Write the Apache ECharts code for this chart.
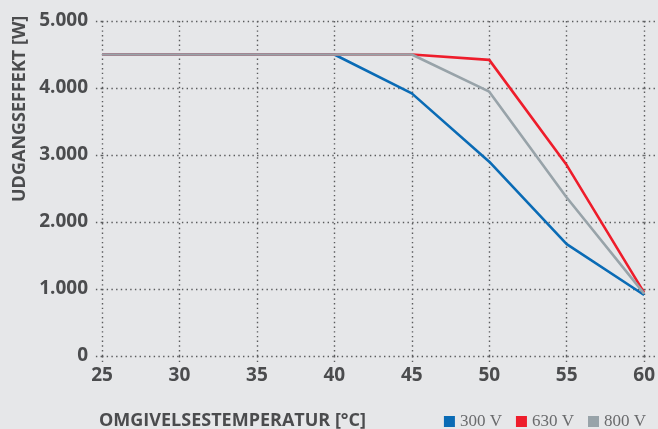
<!DOCTYPE html>
<html>
<head>
<meta charset="utf-8">
<script src="https://cdn.jsdelivr.net/npm/echarts@6/dist/echarts.min.js"></script>
<style>
html,body{margin:0;padding:0;background:#e6e7e9;}
#c{width:658px;height:429px;}
</style>
</head>
<body>
<div id="c"></div>
<script>
const temperatures = [25, 30, 35, 40, 45, 50, 55, 60];
const v300 = [4500, 4500, 4500, 4500, 3920, 2900, 1670, 910];
const v630 = [4500, 4500, 4500, 4500, 4500, 4420, 2850, 945];
const v800 = [4500, 4500, 4500, 4500, 4500, 3945, 2365, 930];
const seriesNames = ['300 V', '630 V', '800 V'];
const seriesColors = ['#0a6bb5', '#ee1d2b', '#98a3a9'];
const yAxisName = 'UDGANGSEFFEKT [W]';
const xAxisName = 'OMGIVELSESTEMPERATUR [°C]';

const FONT = '"Liberation Sans Narrow", "Open Sans", "Liberation Sans", sans-serif';
const TXT = '#4b4c4e';
const dotStyle = { color: '#5a5b5d', width: 1.4, type: [1.4, 3.3] };

const fmtY = v => v === 0 ? '0' : (v / 1000).toFixed(3);

const chart = echarts.init(document.getElementById('c'));
const data = [v300, v630, v800];
chart.setOption({
  backgroundColor: '#e6e7e9',
  animation: false,
  grid: { left: 102, right: 12, top: 21, bottom: 73 },
  legend: {
    right: 7, top: 408,
    icon: 'rect', itemWidth: 11, itemHeight: 11, itemGap: 14,
    textStyle: { fontFamily: '"Liberation Serif", "DejaVu Serif", serif', fontSize: 17, color: '#6a6b6d' },
    data: seriesNames
  },
  xAxis: {
    type: 'value', min: 25, max: 60, interval: 5,
    axisLine: { show: false },
    axisTick: { show: true, length: 7, lineStyle: dotStyle },
    splitLine: { show: true, lineStyle: dotStyle },
    axisLabel: { fontFamily: FONT, fontWeight: 'bold', fontSize: 19, color: TXT, margin: 10 }
  },
  yAxis: [{
    type: 'value', min: 0, max: 5000, interval: 1000,
    axisLine: { show: false },
    axisTick: { show: true, length: 7, lineStyle: dotStyle },
    splitLine: { show: true, lineStyle: dotStyle },
    axisLabel: { fontFamily: FONT, fontWeight: 'bold', fontSize: 19, color: TXT, margin: 14, formatter: fmtY }
  }, {
    type: 'value', min: 0, max: 5000, interval: 1000, position: 'right',
    axisLine: { show: false },
    axisTick: { show: true, length: 12, lineStyle: dotStyle },
    splitLine: { show: false },
    axisLabel: { show: false }
  }],
  graphic: [{
    type: 'text',
    style: { text: yAxisName, fontFamily: FONT, fontWeight: 'bold', fontSize: 18, fill: TXT },
    rotation: Math.PI / 2,
    x: 11, y: 202
  }, {
    type: 'text', left: 99, top: 412,
    style: { text: xAxisName, fontFamily: FONT, fontWeight: 'bold', fontSize: 18, fill: TXT }
  }],
  series: data.map((d, i) => ({
    name: seriesNames[i],
    type: 'line',
    data: temperatures.map((t, j) => [t, d[j]]),
    showSymbol: false,
    symbol: 'none',
    color: seriesColors[i],
    lineStyle: { width: 2.6, color: seriesColors[i] },
    z: 3 + i
  }))
});
</script>
</body>
</html>
